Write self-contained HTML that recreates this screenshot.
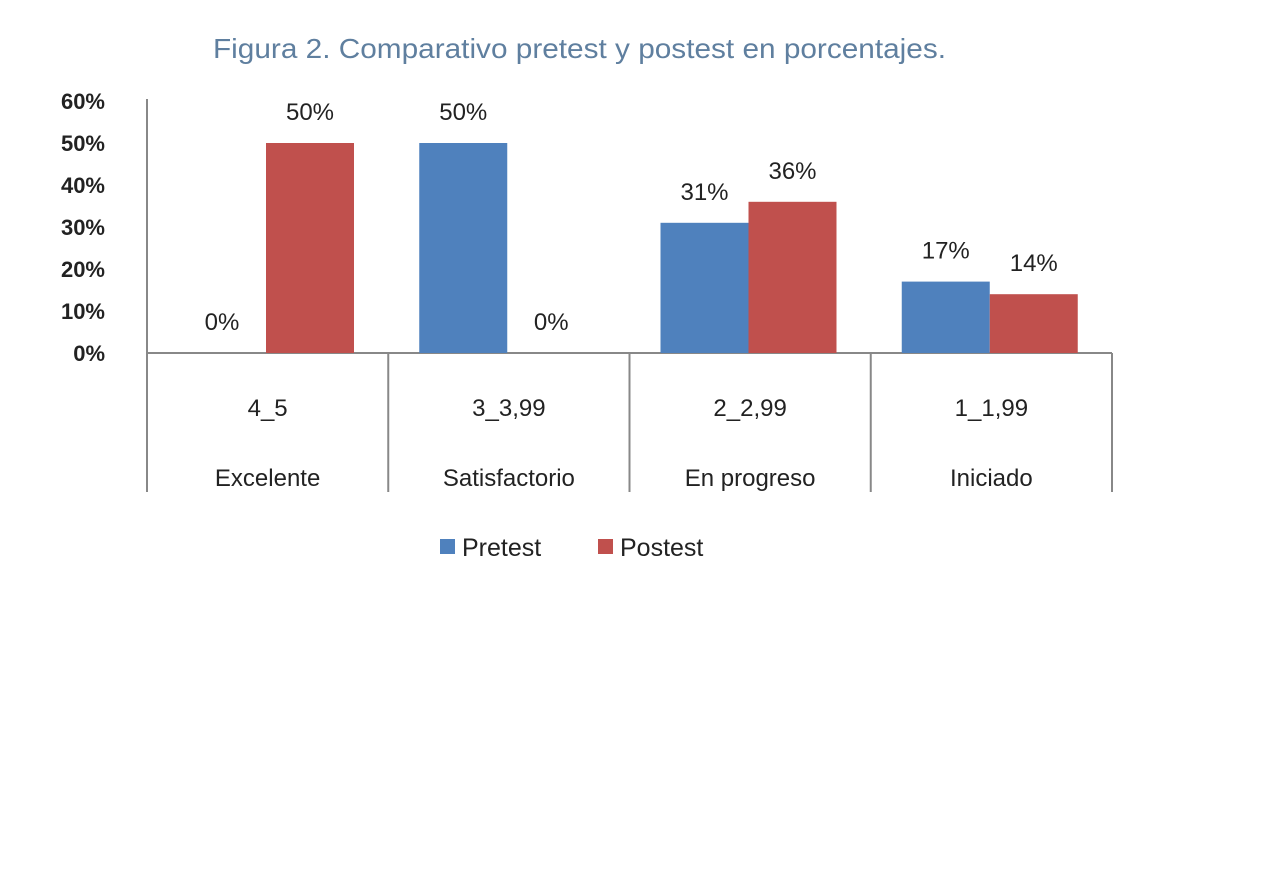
<!DOCTYPE html>
<html><head><meta charset="utf-8"><style>
html,body{margin:0;padding:0;background:#fff;}
svg{display:block;font-family:"Liberation Sans",sans-serif;}
</style></head><body>
<svg id="chart" width="1274" height="896" viewBox="0 0 1274 896">
<text x="213" y="58" font-size="28" fill="#5f7f9f" textLength="733" lengthAdjust="spacingAndGlyphs">Figura 2. Comparativo pretest y postest en porcentajes.</text>
<g id="plot"></g>
</svg>
<script>
const categories = ["Excelente","Satisfactorio","En progreso","Iniciado"];
const ranges = ["4_5","3_3,99","2_2,99","1_1,99"];
const pretest = [0,50,31,17];
const postest = [50,0,36,14];
const yTicks = [0,10,20,30,40,50,60];
const NS="http://www.w3.org/2000/svg";
const g=document.getElementById('plot');
const x0=147,x1=1112,y0=353,pxPer=4.2;
const catW=(x1-x0)/categories.length;
const barW=88,barOff=31;
const y=v=>y0-v*pxPer;
const cx=i=>x0+i*catW;
function mk(tag,attrs,text){const e=document.createElementNS(NS,tag);for(const k in attrs)e.setAttribute(k,attrs[k]);if(text!==undefined)e.textContent=text;g.appendChild(e);return e;}
yTicks.forEach(t=>{
  const e=mk('text',{x:105,y:y(t)+8,'font-size':22,fill:'#222','text-anchor':'end','font-weight':'bold'},t+'%');
  
  
});
let ax=mk('line',{x1:x0,y1:y(60)-2,x2:x0,y2:492,stroke:'#888','stroke-width':2});


let bl=mk('line',{x1:x0,y1:y0,x2:x1,y2:y0,stroke:'#888','stroke-width':2});


categories.forEach((c,i)=>{
  const d=mk('line',{x1:cx(i+1),y1:y0,x2:cx(i+1),y2:492,stroke:'#888','stroke-width':2});
  
  
  const series=[[pretest,'#4f81bd','pretest'],[postest,'#c0504d','postest']];
  series.forEach(([arr,col,nm],s)=>{
    const bx=cx(i)+barOff+s*barW, v=arr[i];
    const r=mk('rect',{x:bx,y:y(v),width:barW,height:v*pxPer,fill:col});
    
    
    const l=mk('text',{x:bx+barW/2,y:y(v)-23,'font-size':24,fill:'#222','text-anchor':'middle'},v+'%');
    
    
  });
  const r1=mk('text',{x:cx(i)+catW/2,y:416,'font-size':24,fill:'#222','text-anchor':'middle'},ranges[i]);
  
  
  const r2=mk('text',{x:cx(i)+catW/2,y:486,'font-size':24,fill:'#222','text-anchor':'middle'},c);
  
  
});
[['Pretest','#4f81bd',440],['Postest','#c0504d',598]].forEach(([n,c,lx])=>{
  const s=mk('rect',{x:lx,y:539,width:15,height:15,fill:c});
  
  
  const t=mk('text',{x:lx+22,y:556,'font-size':25,fill:'#222'},n);
  
  
});
</script>
</body></html>
